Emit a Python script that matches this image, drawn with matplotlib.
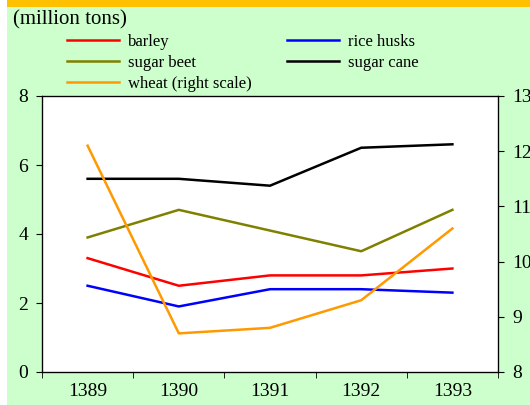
import matplotlib
matplotlib.use('Agg')
import matplotlib.pyplot as plt
from matplotlib.patches import Rectangle

years = ['1389', '1390', '1391', '1392', '1393']
barley = [3.3, 2.5, 2.8, 2.8, 3.0]
rice_husks = [2.5, 1.9, 2.4, 2.4, 2.3]
sugar_beet = [3.9, 4.7, 4.1, 3.5, 4.7]
sugar_cane = [5.6, 5.6, 5.4, 6.5, 6.6]
wheat = [12.1, 8.7, 8.8, 9.3, 10.6]

plt.rcParams['font.family'] = ['Liberation Serif', 'DejaVu Serif']
plt.rcParams['font.size'] = 14

W, H = 530, 405
fig = plt.figure(figsize=(W / 100, H / 100), dpi=100)
fig.patch.set_facecolor('white')
fig.patches.append(Rectangle((7 / W, 0), 1, 1, transform=fig.transFigure,
                             facecolor='#ccffcc', edgecolor='none', zorder=-2))
fig.patches.append(Rectangle((7 / W, 1 - 7 / H), 1, 7 / H, transform=fig.transFigure,
                             facecolor='#ffc000', edgecolor='none', zorder=-1))

ax = fig.add_axes([42 / W, 1 - 372 / H, (498 - 42) / W, (372 - 96) / H])
ax.set_facecolor('white')
x = range(len(years))
lw = 1.8
l1, = ax.plot(x, barley, color='#ff0000', lw=lw, label='barley')
l2, = ax.plot(x, rice_husks, color='#0000ff', lw=lw, label='rice husks')
l3, = ax.plot(x, sugar_beet, color='#808000', lw=lw, label='sugar beet')
l4, = ax.plot(x, sugar_cane, color='#000000', lw=lw, label='sugar cane')
ax.set_ylim(0, 8)
ax.set_yticks([0, 2, 4, 6, 8])
ax.set_xlim(-0.5, 4.5)
ax.set_xticks(x)
ax.set_xticklabels(years)
ax.set_xticks([i - 0.5 for i in range(6)], minor=True)
ax.tick_params(axis='x', which='major', length=0, pad=8)
ax.tick_params(axis='x', which='minor', length=4, direction='out')
ax.tick_params(axis='y', length=4, direction='out', pad=6)
for s in ax.spines.values():
    s.set_linewidth(0.9)

ax2 = ax.twinx()
l5, = ax2.plot(x, wheat, color='#ff9900', lw=lw, label='wheat (right scale)')
ax2.set_ylim(8, 13)
ax2.set_yticks(range(8, 14))
ax2.tick_params(axis='y', length=4, direction='out', pad=6)

fig.text(13 / W, 1 - 20 / H, '(million tons)', fontsize=15, va='center')

leg_kw = dict(loc='upper left', frameon=False, handlelength=3.1,
              labelspacing=0.3, handletextpad=0.55, borderaxespad=0,
              borderpad=0, fontsize=12)
leg1 = fig.legend(handles=[l1, l3, l5], bbox_to_anchor=(67 / W, 1 - 34 / H), **leg_kw)
leg2 = fig.legend(handles=[l2, l4], bbox_to_anchor=(287 / W, 1 - 34 / H), **leg_kw)

fig.savefig('out.png', dpi=100, facecolor=fig.get_facecolor())
